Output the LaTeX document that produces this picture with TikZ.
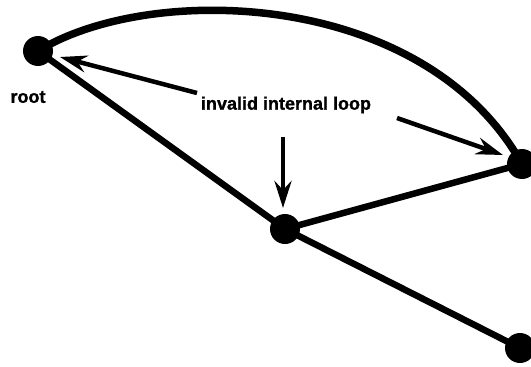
\documentclass[tikz,border=0pt]{standalone}
\usepackage{fontspec}
\setmainfont{Liberation Sans}
\newfontfamily\heavyfont[FakeBold=1.2]{Liberation Sans Bold}
\usetikzlibrary{arrows.meta}
\begin{document}
\begin{tikzpicture}[x=1pt,y=-1pt,
  vtx/.style={circle,fill=black,inner sep=0pt,minimum size=30pt},
  edge/.style={line width=6.5pt},
  arc/.style={line width=7.5pt},
  pointer/.style={line width=4.5pt,-{Stealth[length=27pt,width=17pt,inset=9pt]}},
  lbl/.style={font=\heavyfont\fontsize{18}{21}\selectfont,inner sep=0pt}]
\useasboundingbox (0,0) rectangle (531,367);
\node[vtx] (root) at (38,51) {};
\node[vtx] (mid) at (285,229) {};
\node[vtx] (right) at (522,164) {};
\node[vtx] (bot) at (520,348) {};
\node[lbl] (rootlbl) at (28,97) {root};
\node[lbl] (loop) at (286,105) {invalid internal loop};
\draw[arc] (root.center) .. controls (150,-18) and (424,-11) .. (right.center);
\draw[edge] (root.center) -- (mid.center);
\draw[edge] (mid.center) -- (right.center);
\draw[edge] (mid.center) -- (bot.center);
\coordinate (la) at (197,93);
\coordinate (lt) at (60,57);
\coordinate (da) at (283,137);
\coordinate (dt) at (283,208);
\coordinate (ra) at (397,118);
\coordinate (rt) at (503,155);
\draw[pointer] (la) -- (lt);
\draw[pointer] (da) -- (dt);
\draw[pointer] (ra) -- (rt);
\end{tikzpicture}
\end{document}
